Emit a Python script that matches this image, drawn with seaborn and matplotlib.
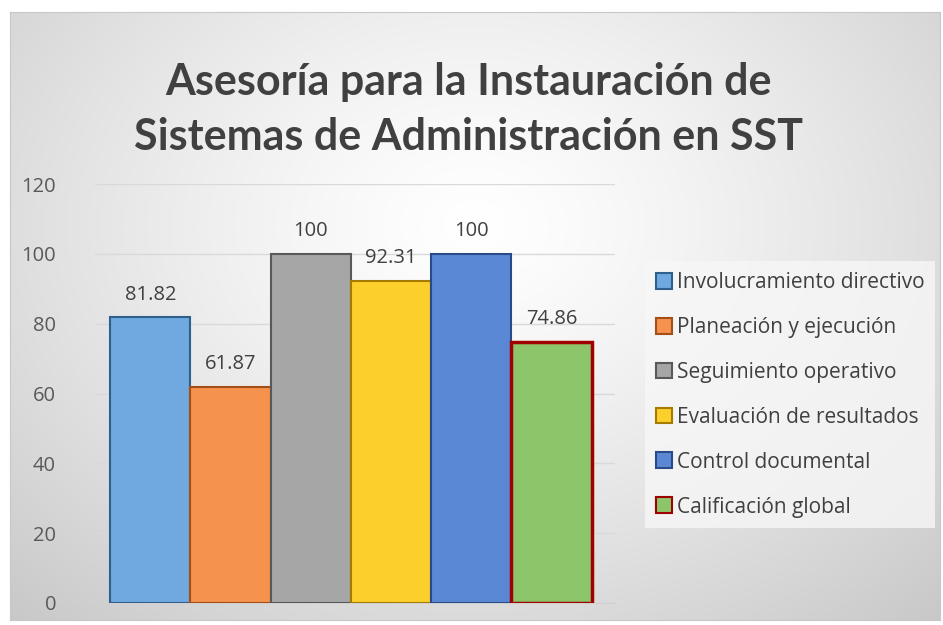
import numpy as np
import pandas as pd
import matplotlib
matplotlib.use("Agg")
import matplotlib.pyplot as plt
import seaborn as sns
from matplotlib.patches import Patch

# data
categories = ["Involucramiento directivo", "Planeación y ejecución", "Seguimiento operativo",
              "Evaluación de resultados", "Control documental", "Calificación global"]
values = [81.82, 61.87, 100, 92.31, 100, 74.86]
colors = ["#6fa9df", "#f4924e", "#a6a6a6", "#fdcf2c", "#5b88d4", "#8cc56a"]
edges = ["#2f5f8c", "#a44f16", "#595959", "#a67c00", "#2a4b8a", "#a00000"]

sns.set_style("white")
plt.rcParams["font.family"] = ["Open Sans", "DejaVu Sans"]

fig = plt.figure(figsize=(9.43, 6.25), dpi=100)
fig.patch.set_facecolor("white")

# radial gradient chart background
bg = fig.add_axes([10/943, 1 - 620/625, 930/943, 608/625])
yy, xx = np.mgrid[0:1:300j, 0:1:450j]
r = np.sqrt(((xx - 0.5) / 0.75) ** 2 + ((yy - 0.35) / 0.9) ** 2)
g = 1 - 0.22 * np.clip(r, 0, 1) ** 1.3
bg.imshow(np.dstack([g, g, g]), aspect="auto", extent=(0, 1, 1, 0))
bg.set_xticks([]); bg.set_yticks([])
for s in bg.spines.values():
    s.set_color("#c8c8c8")
bg.set_zorder(0)

ax = fig.add_axes([95/943, 22/625, 520/943, 419/625])
ax.set_zorder(1)
ax.patch.set_alpha(0)

df = pd.DataFrame({"cat": categories, "val": values})
sns.barplot(data=df, x="cat", y="val", hue="cat", palette=colors, width=1.0,
            legend=False, ax=ax, saturation=1)

for i, p in enumerate(ax.patches):
    p.set_edgecolor(edges[i])
    p.set_linewidth(2.5 if i == 5 else 1.5)
    p.set_zorder(3)

for c in ax.containers:
    ax.bar_label(c, labels=[f"{v:g}" for v in c.datavalues], padding=9,
                 fontsize=14.5, color="#404040")

ax.set_ylim(0, 120)
ax.set_yticks(range(0, 121, 20))
ax.set_xlim(-0.69, 5.79)
ax.set_xticks([])
ax.set_xlabel("")
ax.set_ylabel("")
ax.tick_params(axis="y", labelsize=14.5, labelcolor="#595959", length=0, pad=28)
ax.yaxis.grid(True, color="#d9d9d9", lw=1)
ax.set_axisbelow(True)
for s in ["top", "right", "left"]:
    ax.spines[s].set_visible(False)
ax.spines["bottom"].set_color("#d0d0d0")

fig.text(0.497, 0.825, "Asesoría para la Instauración de\nSistemas de Administración en SST",
         ha="center", va="center", fontsize=31, fontweight="bold", color="#404040",
         linespacing=1.45, family=["Lato", "DejaVu Sans"])

handles = [Patch(facecolor=c, edgecolor=e, lw=1.5) for c, e in zip(colors, edges)]
leg = fig.legend(handles, categories, loc="upper left", bbox_to_anchor=(635/943, 1 - 251/625),
                 fontsize=15, labelspacing=1.15, handlelength=0.8, handleheight=0.8,
                 handletextpad=0.2, frameon=True, fancybox=False, borderpad=0.5)
leg.get_frame().set_facecolor("#f7f7f7")
leg.get_frame().set_edgecolor("none")
for t in leg.get_texts():
    t.set_color("#404040")

fig.savefig("out.png", dpi=100)
